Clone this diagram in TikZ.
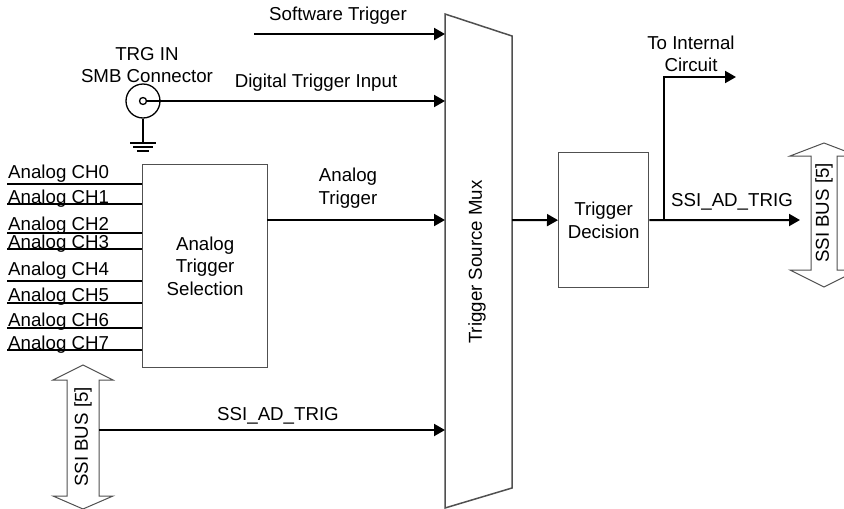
\documentclass[tikz,border=0pt]{standalone}
\usepackage{fontspec}
\setmainfont{Liberation Sans}
\usetikzlibrary{arrows.meta}
\definecolor{edge}{RGB}{80,80,80}
\tikzset{
  lbl/.style={inner sep=0pt, align=center, font=\fontsize{18.7}{22.5}\selectfont},
  sig/.style={line width=2pt, black},
  sigarrow/.style={sig, -{Triangle[length=11pt,width=12pt]}},
  blockbox/.style={draw=edge, line width=1.3pt, fill=white, inner sep=0pt},
  chline/.style={line width=1.5pt, black},
  busshape/.style={draw=edge, line width=1pt, fill=white},
}
\begin{document}
\begin{tikzpicture}[x=1pt,y=-1pt]
\useasboundingbox (0,0) rectangle (844,509);
% Mux
\coordinate (muxTL) at (445,14);
\coordinate (muxTR) at (512,36);
\coordinate (muxBR) at (512,488);
\coordinate (muxBL) at (445,508);
\draw[draw=edge, line width=1.5pt, fill=white] (muxTL) -- (muxTR) -- (muxBR) -- (muxBL) -- cycle;
\node[lbl, rotate=90] (muxtxt) at (477,262) {Trigger Source Mux};
\coordinate (muxIn1) at (445,34);
\coordinate (muxIn2) at (445,101);
\coordinate (muxIn3) at (445,220);
\coordinate (muxIn4) at (445,430);
\coordinate (muxOut) at (512,220);
% Software trigger
\coordinate (swStart) at (254,34);
\draw[sigarrow] (swStart) -- (muxIn1);
\node[lbl] (swlbl) at (338,16) {Software Trigger};
% SMB connector
\node[draw=black, line width=1.3pt, circle, minimum size=34pt, inner sep=0pt] (smb) at (143,101) {};
\node[draw=black, line width=1.3pt, circle, minimum size=7pt, inner sep=0pt] (smbpin) at (143,101) {};
\node[lbl] (trgin) at (147,54) {TRG IN};
\node[lbl] (smblbl) at (147,76) {SMB Connector};
\draw[sigarrow] (smbpin.east) -- (muxIn2);
\node[lbl] (diglbl) at (316,83) {Digital Trigger Input};
% ground
\coordinate (gnd) at (143,143);
\draw[line width=1.3pt] (smb.south) -- (gnd);
\draw[line width=1.3pt] (130,143) -- (156,143);
\draw[line width=1.3pt] (133,147) -- (153,147);
\draw[line width=1.3pt] (137,151) -- (149,151);
% Analog trigger selection
\node[blockbox, minimum width=125pt, minimum height=203pt, anchor=north west] (asel) at (142,164) {};
\node[lbl] (asellbl) at (asel.center) {Analog\\Trigger\\Selection};
\coordinate (aselOut) at (267,220);
\draw[sigarrow] (aselOut) -- (muxIn3);
\node[lbl] (atlbl) at (348,188) {Analog\\Trigger};
% channels
\foreach \i/\ly/\by in {0/184/178, 1/204/203, 2/233/230, 3/249/248, 4/281/275, 5/303/301, 6/328/326, 7/350/349}{
  \coordinate (chs\i) at (7,\ly);
  \coordinate (che\i) at (142,\ly);
  \draw[chline] (chs\i) -- (che\i);
  \node[lbl, anchor=base west] (chl\i) at (8,\by) {Analog CH\i};
}
% left SSI bus
\draw[busshape] (83,365) -- (113,380) -- (99,380) -- (99,496) -- (113,496) -- (83,509) -- (53,496) -- (67,496) -- (67,380) -- (53,380) -- cycle;
\node[lbl, rotate=90] (busL) at (83,437) {SSI BUS [5]};
\coordinate (busLout) at (99,430);
\draw[sigarrow] (busLout) -- (muxIn4);
\node[lbl] (ssiL) at (278,416) {SSI\_AD\_TRIG};
% Trigger decision
\node[blockbox, minimum width=90pt, minimum height=135pt, anchor=north west] (dec) at (558,152) {};
\node[lbl] (declbl) at (dec.center) {Trigger\\Decision};
\draw[sigarrow] (muxOut) -- (dec.west);
% output
\coordinate (branch) at (664,220);
\coordinate (busRin) at (800,220);
\coordinate (corner) at (664,77);
\coordinate (intEnd) at (736,77);
\draw[sigarrow] (dec.east) -- (busRin);
\draw[sigarrow] (branch) -- (corner) -- (intEnd);
\node[lbl] (ssiR) at (732,202) {SSI\_AD\_TRIG};
\node[lbl] (intlbl) at (691,54) {To Internal\\Circuit};
% right SSI bus
\draw[busshape] (824,143) -- (858,156) -- (837,156) -- (837,270) -- (858,270) -- (824,287) -- (790,270) -- (811,270) -- (811,156) -- (790,156) -- cycle;
\node[lbl, rotate=90] (busR) at (824,213) {SSI BUS [5]};
\end{tikzpicture}
\end{document}
